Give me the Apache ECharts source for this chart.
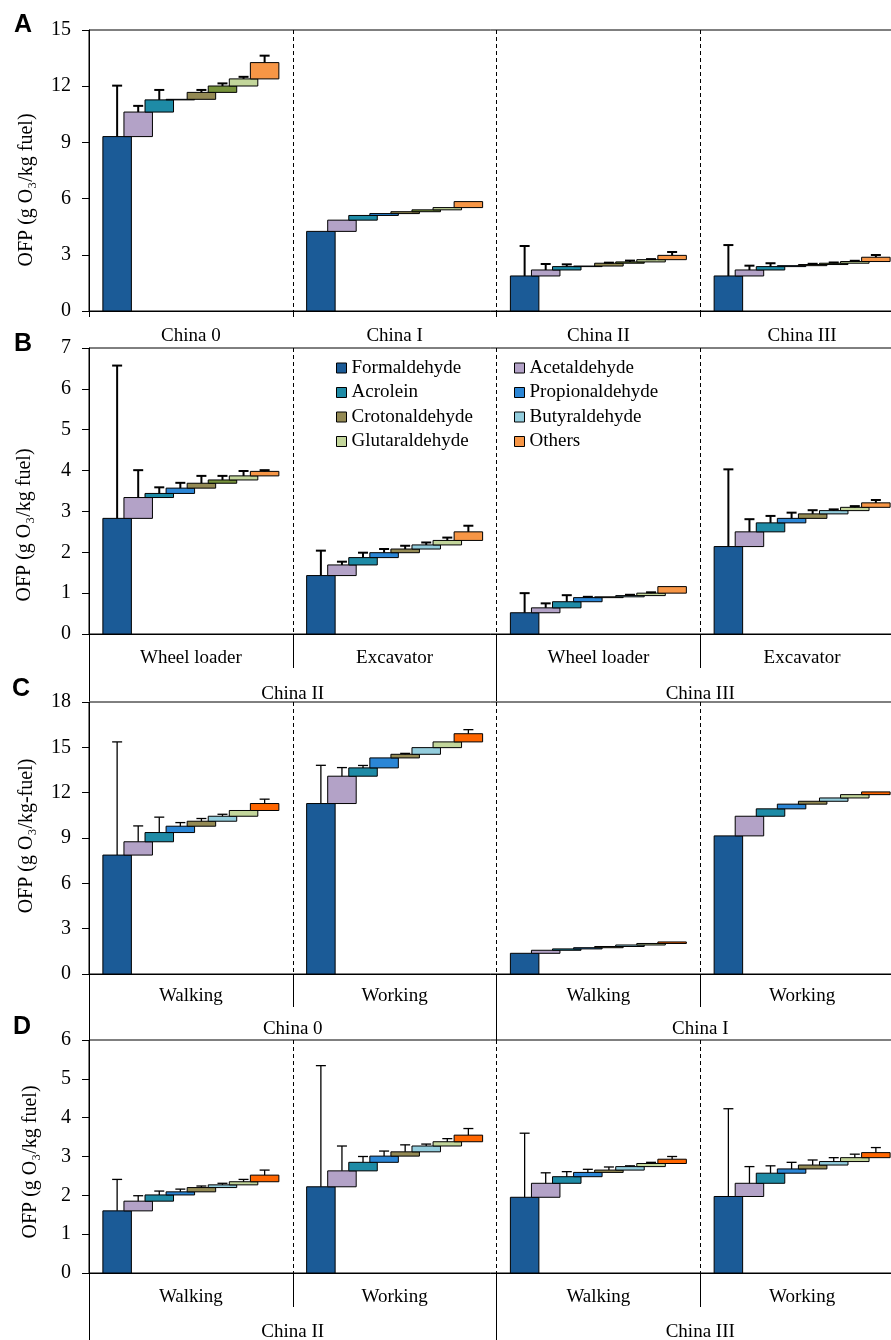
<!DOCTYPE html>
<html><head><meta charset="utf-8">
<script src="https://cdn.jsdelivr.net/npm/echarts@6/dist/echarts.min.js"></script>
<style>html,body{margin:0;padding:0;background:#fff}#c{width:891px;height:1340px}</style>
</head><body><div id="c"></div>
<script>
// ---------------- data ----------------
const compounds = ['Formaldehyde','Acetaldehyde','Acrolein','Propionaldehyde','Crotonaldehyde','Butyraldehyde','Glutaraldehyde','Others'];

const catsA = ['China 0','China I','China II','China III'];
const catsB = ['Wheel loader','Excavator','Wheel loader','Excavator'];
const groupsB = ['China II','China III'];
const catsC = ['Walking','Working','Walking','Working'];
const groupsC = ['China 0','China I'];
const catsD = ['Walking','Working','Walking','Working'];
const groupsD = ['China II','China III'];

const yTicksA = [0,3,6,9,12,15];
const yTicksB = [0,1,2,3,4,5,6,7];
const yTicksC = [0,3,6,9,12,15,18];
const yTicksD = [0,1,2,3,4,5,6];

// cumulative top of each compound bar, per group (order = compounds)
const topA = [
  [9.31,10.62,11.27,11.30,11.67,12.01,12.39,13.26],
  [4.25,4.85,5.10,5.20,5.30,5.40,5.52,5.84],
  [1.87,2.19,2.37,2.40,2.55,2.62,2.74,2.97],
  [1.87,2.19,2.37,2.42,2.48,2.55,2.64,2.87]
];
const errA = [
  [12.03,10.95,11.80,null,11.80,12.15,12.50,13.63],
  [null,null,null,null,null,null,null,null],
  [3.47,2.51,2.49,null,2.58,2.69,2.77,3.15],
  [3.52,2.42,2.55,null,2.52,2.59,2.68,2.99]
];
const topB = [
  [2.83,3.34,3.44,3.57,3.69,3.77,3.87,3.98],
  [1.43,1.69,1.87,1.99,2.08,2.18,2.29,2.50],
  [0.52,0.64,0.79,0.89,0.91,0.94,1.00,1.16],
  [2.14,2.50,2.72,2.83,2.94,3.02,3.10,3.21]
];
const errB = [
  [6.57,4.01,3.59,3.70,3.87,3.87,3.99,4.01],
  [2.04,1.77,1.99,2.08,2.16,2.24,2.36,2.65],
  [1.00,0.75,0.95,0.91,null,0.96,1.02,null],
  [4.03,2.81,2.89,2.97,3.03,3.05,3.13,3.28]
];
const topC = [
  [7.87,8.75,9.36,9.78,10.11,10.44,10.82,11.28],
  [11.28,13.09,13.64,14.30,14.54,14.98,15.36,15.90],
  [1.37,1.57,1.66,1.74,1.82,1.92,2.02,2.12],
  [9.14,10.44,10.93,11.24,11.43,11.65,11.87,12.05]
];
const errC = [
  [15.36,9.80,10.38,10.02,10.29,10.57,null,11.57],
  [13.81,13.66,13.80,null,14.60,null,null,16.17],
  [null,null,null,null,null,null,null,null],
  [null,null,null,null,null,null,null,null]
];
const topD = [
  [1.60,1.85,2.01,2.09,2.20,2.27,2.35,2.52],
  [2.22,2.63,2.85,3.01,3.12,3.27,3.38,3.55],
  [1.95,2.31,2.48,2.59,2.65,2.74,2.82,2.93],
  [1.97,2.31,2.57,2.68,2.78,2.87,2.97,3.10]
];
const errD = [
  [2.41,1.99,2.11,2.16,2.24,2.31,2.41,2.65],
  [5.34,3.27,3.00,3.14,3.30,3.32,3.46,3.72],
  [3.60,2.58,2.61,2.67,2.73,2.76,2.85,3.00],
  [4.23,2.74,2.76,2.85,2.91,2.97,3.06,3.23]
];

// ---------------- styles ----------------
const colors = ['#1B5B97','#B3A2C7','#1E8BA6','#2B86D6','#948A54','#93CDDD','#C3D69B','#F79646'];
const FONT = 'Liberation Serif';
const STEP = 21.07/203.75, BARW = 28.5/203.75;

const panels = [
  {top:30,  h:281, cats:catsA, groups:null,    ticks:yTicksA, tops:topA, errs:errA, ew:2,   lab:16, tickLen:6,  gm:0,  gl:0,
   title:'OFP (g O\u2083/kg fuel)', tx:27, ty:190, letter:'A', lx:23, ly:25,
   override:(g,j)=> j===5 ? '#77933C' : null},
  {top:348, h:286, cats:catsB, groups:groupsB, ticks:yTicksB, tops:topB, errs:errB, ew:2,   lab:15, tickLen:34, gm:51, gl:67,
   title:'OFP (g O\u2083/kg fuel)', tx:25, ty:525, letter:'B', lx:23, ly:344,
   override:(g,j)=> (g===0 && j===5) ? '#77933C' : null},
  {top:702, h:272, cats:catsC, groups:groupsC, ticks:yTicksC, tops:topC, errs:errC, ew:1.3, lab:13, tickLen:33, gm:46, gl:66,
   title:'OFP (g O\u2083/kg-fuel)', tx:27, ty:836, letter:'C', lx:21, ly:689,
   override:(g,j)=> j===7 ? '#FF6600' : null},
  {top:1040,h:233, cats:catsD, groups:groupsD, ticks:yTicksD, tops:topD, errs:errD, ew:1.3, lab:15, tickLen:34, gm:50, gl:70,
   title:'OFP (g O\u2083/kg fuel)', tx:31, ty:1162, letter:'D', lx:22, ly:1027,
   override:(g,j)=> j===7 ? '#FF6600' : null}
];

const grid = [], xAxis = [], yAxis = [], series = [], graphic = [];
panels.forEach((p, pi) => {
  grid.push({left:89, width:815, top:p.top, height:p.h, show:true, borderColor:'#000', borderWidth:1,
             backgroundColor:'transparent', containLabel:false, outerBoundsMode:'none'});
  const primIdx = xAxis.length;
  xAxis.push({
    type:'category', gridIndex:pi, data:p.cats, boundaryGap:true, position:'bottom',
    axisLine:{show:true, lineStyle:{color:'#000', width:1}},
    axisTick:{show:true, interval:0, length:p.tickLen, lineStyle:{color:'#000', width:1}},
    axisLabel:{interval:0, color:'#000', fontFamily:FONT, fontSize:19, margin:p.lab},
    splitLine:{show:true, interval:0, lineStyle:{color:'#000', width:1, type:[4,3]}}
  });
  if (p.groups) {
    xAxis.push({
      type:'category', gridIndex:pi, data:p.groups, boundaryGap:true, position:'bottom',
      axisLine:{show:false},
      axisTick:{show:true, interval:0, length:p.gl, lineStyle:{color:'#000', width:1}},
      axisLabel:{interval:0, color:'#000', fontFamily:FONT, fontSize:19, margin:p.gm},
      splitLine:{show:false}
    });
  }
  const t = p.ticks;
  yAxis.push({
    type:'value', gridIndex:pi, min:t[0], max:t[t.length-1], interval:t[1]-t[0],
    axisLine:{show:true, lineStyle:{color:'#000', width:1}},
    axisTick:{show:true, length:7, lineStyle:{color:'#000'}},
    axisLabel:{color:'#000', fontFamily:FONT, fontSize:20, margin:18},
    splitLine:{show:false}
  });
  compounds.forEach((name, j) => {
    const data = p.tops.map((row, g) => [g, j === 0 ? 0 : row[j-1], row[j], p.errs[g][j] == null ? '-' : p.errs[g][j]]);
    series.push({
      type:'custom', name, xAxisIndex:primIdx, yAxisIndex:pi,
      itemStyle:{color:colors[j]},
      data,
      renderItem:(params, api) => {
        const g = api.value(0), b = api.value(1), tp = api.value(2), e = api.value(3);
        const c0 = api.coord([g, b]), c1 = api.coord([g, tp]);
        const band = api.size([1, 0])[0];
        const cx = c0[0] + (j - 3.5) * band * STEP;
        const w = band * BARW;
        const fill = p.override(g, j) || api.visual('color');
        const ch = [{type:'rect', shape:{x:cx - w/2, y:c1[1], width:w, height:Math.max(c0[1]-c1[1], 0.5)},
                     style:{fill, stroke:'#000', lineWidth:1}}];
        if (!isNaN(e)) {
          const ce = api.coord([g, e]);
          ch.push({type:'line', shape:{x1:cx, y1:c1[1], x2:cx, y2:ce[1]}, style:{stroke:'#000', lineWidth:p.ew}});
          ch.push({type:'line', shape:{x1:cx-5, y1:ce[1], x2:cx+5, y2:ce[1]}, style:{stroke:'#000', lineWidth:p.ew}});
        }
        return {type:'group', children:ch};
      }
    });
  });
  graphic.push({type:'text', x:p.tx, y:p.ty, rotation:Math.PI/2,
    style:{text:p.title, fontFamily:FONT, fontSize:20, fill:'#000', textAlign:'center', textVerticalAlign:'middle'}});
  graphic.push({type:'text', x:p.lx, y:p.ly,
    style:{text:p.letter, fontFamily:'Liberation Sans', fontWeight:'bold', fontSize:25, fill:'#000', textAlign:'center', textVerticalAlign:'middle'}});
});

const legendBase = {
  orient:'vertical', top:358, padding:0, itemGap:4.5, itemWidth:10, itemHeight:10, icon:'rect',
  selectedMode:false,
  itemStyle:{borderColor:'#000', borderWidth:1},
  textStyle:{color:'#000', fontFamily:FONT, fontSize:19, lineHeight:20}
};

const chart = echarts.init(document.getElementById('c'), null, {renderer:'canvas'});
chart.setOption({
  animation:false,
  backgroundColor:'#fff',
  textStyle:{fontFamily:FONT},
  grid, xAxis, yAxis, series, graphic,
  legend:[
    Object.assign({}, legendBase, {left:336, data:[compounds[0],compounds[2],compounds[4],compounds[6]]}),
    Object.assign({}, legendBase, {left:514, data:[compounds[1],compounds[3],compounds[5],compounds[7]]})
  ]
});
</script></body></html>
